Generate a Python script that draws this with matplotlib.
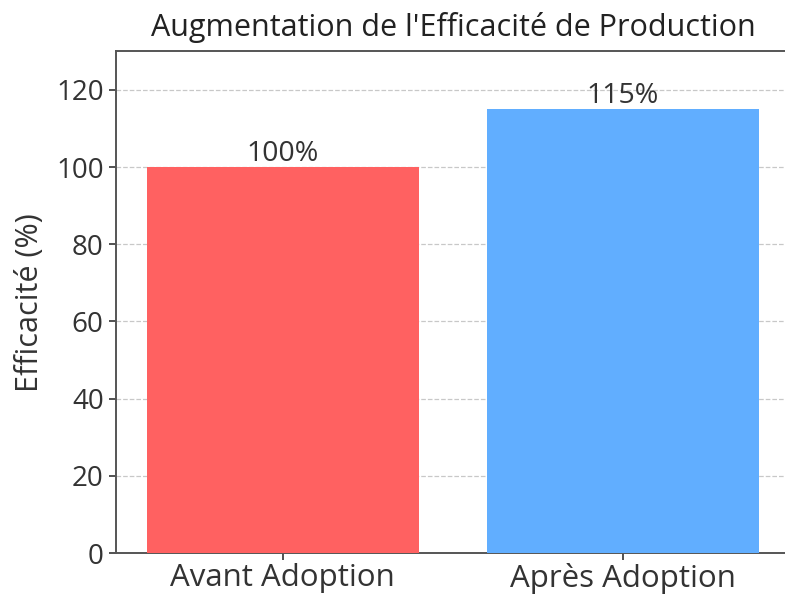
import matplotlib
matplotlib.use("Agg")
import matplotlib.pyplot as plt

categories = ["Avant Adoption", "Après Adoption"]
values = [100, 115]
labels = ["100%", "115%"]
colors = ["#FF6161", "#61AEFF"]

plt.rcParams['font.family'] = ['Open Sans', 'DejaVu Sans']

fig = plt.figure(figsize=(7.85, 5.96), dpi=100)
ax = fig.add_axes([0.148, 0.072, 0.858, 0.842])

bars = ax.bar(categories, values, color=colors, width=0.8, zorder=3)
for b, lab in zip(bars, labels):
    ax.text(b.get_x() + b.get_width() / 2, b.get_height() - 0.3, lab,
            ha="center", va="bottom", fontsize=20.5, color="#333333", zorder=4)

ax.set_ylim(0, 130)
ax.set_xlim(-0.49, 1.49)
ax.set_yticks([0, 20, 40, 60, 80, 100, 120])
ax.set_ylabel("Efficacité (%)", fontsize=22, color="#333333", labelpad=8)
ax.set_title("Augmentation de l'Efficacité de Production", fontsize=22, color="#222222", pad=11)
ax.tick_params(axis="y", labelsize=20, colors="#333333", length=5, width=1.2, pad=4)
ax.tick_params(axis="x", labelsize=22.5, colors="#333333", length=5, width=1.2, pad=2)
ax.grid(axis="y", linestyle="--", color="#bbbbbb", alpha=0.8, linewidth=0.9, zorder=0)
for s in ax.spines.values():
    s.set_color("#555555")
    s.set_linewidth(1.4)

fig.savefig("out.png", dpi=100)
